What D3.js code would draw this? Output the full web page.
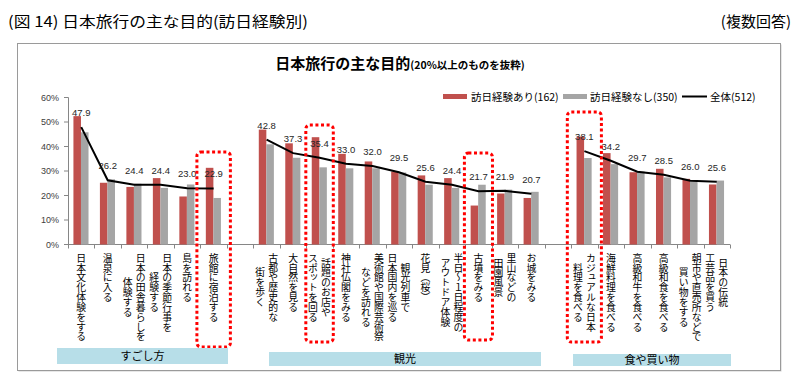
<!DOCTYPE html>
<html><head><meta charset="utf-8">
<script src="https://cdn.jsdelivr.net/npm/d3@7"></script>
<style>body{margin:0;background:#fff} svg{display:block}
.vlab{writing-mode:vertical-rl;text-orientation:upright;}
</style>
</head><body>
<svg id="c" width="800" height="380"></svg>
<script>
// ---------- DATA ----------
const groupNames = ["すごし方", "観光", "食や買い物"];
const categories = [
  "日本文化体験をする", "温泉に入る", "日本の田舎暮らしを\n体験する", "日本の季節行事を\n経験する", "島を訪れる", "旅館に宿泊する",
  "古都や歴史的な\n街を歩く", "大自然を見る", "話題のお店や\nスポットを回る", "神社仏閣をみる", "美術館や国際芸術祭\nなどを訪れる",
  "観光列車で\n日本国内を巡る", "花見（桜）", "半日～１日程度の\nアウトドア体験", "古墳をみる", "里山などの\n田園風景", "お城をみる",
  "カジュアルな日本\n料理を食べる", "海鮮料理を食べる", "高級和牛を食べる", "高級和食を食べる", "朝市や直売所などで\n買い物をする", "日本の伝統\n工芸品を買う"
];
const categoryGroup = [0,0,0,0,0,0, 1,1,1,1,1,1,1,1,1,1,1, 2,2,2,2,2,2];
const withVisit    = [52.4,25.2,23.5,27.1,19.6,31.3, 46.9,41.3,43.8,37.0,33.9,29.8,28.2,27.1,15.9,20.8,19.0, 44.1,37.3,29.5,30.9,26.8,24.5];
const withoutVisit = [45.8,26.6,24.8,23.1,24.5,19.0, 40.9,35.4,31.5,31.1,31.1,29.4,24.4,23.1,24.4,22.4,21.5, 35.3,32.8,29.8,27.4,25.6,26.1];
const total        = [47.9,26.2,24.4,24.4,23.0,22.9, 42.8,37.3,35.4,33.0,32.0,29.5,25.6,24.4,21.7,21.9,20.7, 38.1,34.2,29.7,28.5,26.0,25.6];
const yTicks = [0, 10, 20, 30, 40, 50, 60];
const seriesNames = ["訪日経験あり(162)", "訪日経験なし(350)", "全体(512)"];
const highlighted = ["旅館に宿泊する", "話題のお店や\nスポットを回る", "古墳をみる", "カジュアルな日本\n料理を食べる"];

// ---------- SETUP ----------
const svg = d3.select("#c");
const JP = "'Noto Sans CJK JP', sans-serif";
const NUM = "'Liberation Sans', Arial, sans-serif";
const RED = "#C0504D", GRAY = "#A5A5A5";

const slotOf = categories.map((c, i) => i + categoryGroup[i]);
const nSlots = categories.length + groupNames.length - 1;

const x = d3.scaleBand().domain(d3.range(nSlots)).range([68, 730]).padding(0);
const step = x.step();
const sub = d3.scaleBand().domain([0, 1]).range([step * 0.205, step * 0.775]).padding(0);
const y = d3.scaleLinear().domain([0, 60]).range([244.5, 97.5]);

// frame
svg.append("rect").attr("x", 18.5).attr("y", 44.5).attr("width", 763).attr("height", 327).attr("fill", "#d0d0d0");
svg.append("rect").attr("x", 17.5).attr("y", 43.5).attr("width", 763).attr("height", 327)
  .attr("fill", "#fff").attr("stroke", "#9a9a9a").attr("stroke-width", 1);

// titles
svg.append("text").attr("x", 8).attr("y", 27).attr("font-family", JP).attr("font-size", 15)
  .attr("fill", "#000").attr("textLength", 300).attr("lengthAdjust", "spacingAndGlyphs")
  .text("(図 14)  日本旅行の主な目的(訪日経験別)");
svg.append("text").attr("x", 791).attr("y", 27).attr("font-family", JP).attr("font-size", 15)
  .attr("text-anchor", "end").attr("fill", "#000").text("(複数回答)");

const t = svg.append("text").attr("x", 400).attr("y", 69).attr("text-anchor", "middle")
  .attr("font-family", JP).attr("font-weight", "bold").attr("fill", "#000");
t.append("tspan").attr("font-size", 15).text("日本旅行の主な目的");
t.append("tspan").attr("font-size", 10.5).text("(20%以上のものを抜粋)");

// y axis
const yAxis = svg.append("g");
yAxis.append("line").attr("x1", 68.5).attr("x2", 68.5).attr("y1", y(60)).attr("y2", y(0)).attr("stroke", "#868686");
yTicks.forEach(v => {
  yAxis.append("line").attr("x1", 64).attr("x2", 68.5).attr("y1", y(v)).attr("y2", y(v)).attr("stroke", "#868686");
  yAxis.append("text").attr("x", 59).attr("y", y(v) + 3.3).attr("text-anchor", "end")
    .attr("font-family", NUM).attr("font-size", 9).attr("fill", "#404040").text(v + "%");
});

// x axis
const xAxis = svg.append("g");
xAxis.append("line").attr("x1", 68).attr("x2", 730).attr("y1", y(0)).attr("y2", y(0)).attr("stroke", "#868686");
d3.range(nSlots + 1).forEach(i => {
  const xx = Math.round(68 + i * step) + 0.5;
  xAxis.append("line").attr("x1", xx).attr("x2", xx).attr("y1", y(0)).attr("y2", y(0) + 4).attr("stroke", "#868686");
});

// bars
const bars = svg.append("g");
categories.forEach((c, i) => {
  const s = slotOf[i];
  bars.append("rect").attr("x", x(s) + sub(0)).attr("width", sub.bandwidth()).attr("y", y(withVisit[i]))
    .attr("height", y(0) - y(withVisit[i])).attr("fill", RED);
  bars.append("rect").attr("x", x(s) + sub(1)).attr("width", sub.bandwidth()).attr("y", y(withoutVisit[i]))
    .attr("height", y(0) - y(withoutVisit[i])).attr("fill", GRAY);
});

// lines per group
const line = d3.line().x(i => x(slotOf[i]) + step / 2).y(i => y(total[i]));
groupNames.forEach((g, gi) => {
  const idx = categories.map((c, i) => i).filter(i => categoryGroup[i] === gi);
  svg.append("path").attr("d", line(idx)).attr("fill", "none").attr("stroke", "#000").attr("stroke-width", 2);
});

// value labels
categories.forEach((c, i) => {
  svg.append("text").attr("x", x(slotOf[i]) + step / 2).attr("y", y(total[i]) - 11)
    .attr("text-anchor", "middle").attr("font-family", NUM).attr("font-size", 9.5).attr("fill", "#262626")
    .text(total[i].toFixed(1));
});

// category labels (vertical writing mode)
const labTop = 253, charH = 9.85, colGap = 13;
categories.forEach((c, i) => {
  const lines = c.split("\n");
  const maxLen = d3.max(lines, l => Array.from(l).length);
  const cx = x(slotOf[i]) + step / 2;
  lines.forEach((l, j) => {
    const lx = cx + (lines.length - 1) / 2 * colGap - j * colGap;
    svg.append("text").attr("class", "vlab").attr("x", lx).attr("y", labTop + maxLen * charH / 2)
      .attr("text-anchor", "middle").attr("font-family", JP).attr("font-size", 9.85)
      .attr("fill", "#000").text(l);
  });
});

// highlight boxes (annotations)
const hlLayout = [
  {pad: 3.5, top: 152, bottom: 347},
  {pad: 0.5, top: 125, bottom: 342},
  {pad: 0.8, top: 153, bottom: 340},
  {pad: 3.8, top: 112, bottom: 342}
];
highlighted.forEach((h, k) => {
  const i = categories.indexOf(h);
  const s = slotOf[i], L = hlLayout[k];
  svg.append("rect").attr("x", x(s) - L.pad).attr("y", L.top).attr("width", step + 2 * L.pad)
    .attr("height", L.bottom - L.top).attr("rx", 4).attr("fill", "none")
    .attr("stroke", "#FF0000").attr("stroke-width", 3).attr("stroke-dasharray", "3,2.6");
});

// group boxes
const groupBoxLayout = [
  {x0: 57, x1: 228, y0: 348, y1: 364},
  {x0: 269, x1: 541, y0: 352, y1: 366},
  {x0: 573, x1: 731, y0: 354, y1: 366}
];
groupNames.forEach((g, gi) => {
  const L = groupBoxLayout[gi];
  svg.append("rect").attr("x", L.x0).attr("y", L.y0).attr("width", L.x1 - L.x0).attr("height", L.y1 - L.y0).attr("fill", "#B7DEE8");
  svg.append("text").attr("x", (L.x0 + L.x1) / 2).attr("y", (L.y0 + L.y1) / 2 + 4)
    .attr("text-anchor", "middle").attr("font-family", JP).attr("font-size", 11).attr("fill", "#000").text(g);
});

// legend
const lg = svg.append("g").attr("font-family", JP).attr("font-size", 10.5).attr("fill", "#000");
const legendLayout = [{sx: 443, sw: 24, tx: 471}, {sx: 563, sw: 24, tx: 590}, {sx: 682, sw: 25, tx: 710}];
seriesNames.forEach((n, k) => {
  const L = legendLayout[k];
  if (k < 2) lg.append("rect").attr("x", L.sx).attr("y", 94).attr("width", L.sw).attr("height", 5).attr("fill", k === 0 ? RED : GRAY);
  else lg.append("line").attr("x1", L.sx).attr("x2", L.sx + L.sw).attr("y1", 96.5).attr("y2", 96.5).attr("stroke", "#000").attr("stroke-width", 2);
  lg.append("text").attr("x", L.tx).attr("y", 100.5).text(n);
});
</script>
</body></html>
